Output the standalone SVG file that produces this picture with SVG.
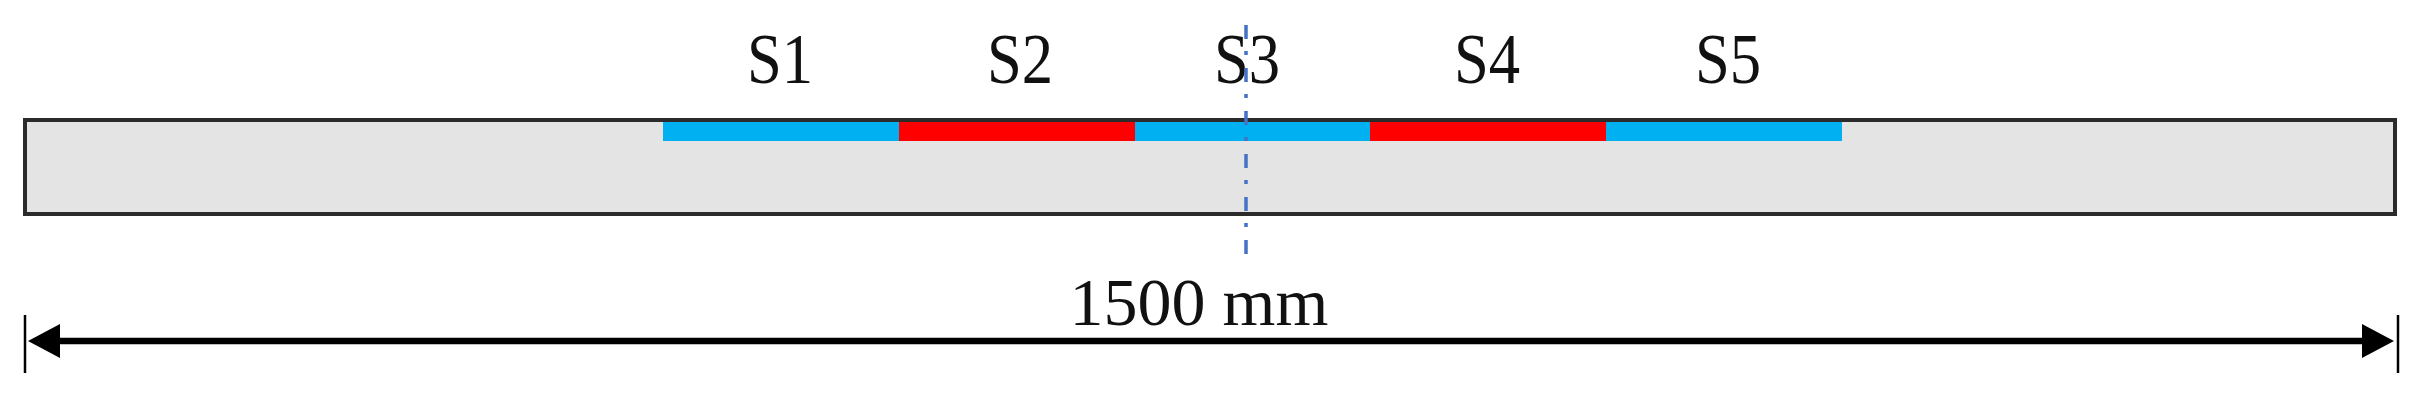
<svg xmlns="http://www.w3.org/2000/svg" width="2429" height="400" viewBox="0 0 2429 400">
<style>
.lbl{font-family:"Liberation Serif","Times New Roman",serif;font-size:72px;fill:#111;text-anchor:middle}
.dim{font-family:"Liberation Serif","Times New Roman",serif;font-size:68px;fill:#111;text-anchor:middle}
.blue{fill:#00B0F0}
.red{fill:#FF0000}
.tick{stroke:#000;stroke-width:2.5}
</style>
<rect width="2429" height="400" fill="#fff"/>
<g id="beam">
<rect x="25" y="120" width="2370" height="94" fill="#E4E4E4" stroke="#2b2b2b" stroke-width="4"/>
</g>
<g id="sensors">
<rect id="s1" class="blue" x="663" y="122" width="236" height="19"/>
<rect id="s2" class="red" x="899" y="122" width="236" height="19"/>
<rect id="s3" class="blue" x="1135" y="122" width="235" height="19"/>
<rect id="s4" class="red" x="1370" y="122" width="236" height="19"/>
<rect id="s5" class="blue" x="1606" y="122" width="236" height="19"/>
</g>
<g id="labels">
<text class="lbl" transform="translate(780,83) scale(0.87,1)">S1</text>
<text class="lbl" transform="translate(1020,83) scale(0.87,1)">S2</text>
<text class="lbl" transform="translate(1247,83) scale(0.87,1)">S3</text>
<text class="lbl" transform="translate(1487,83) scale(0.87,1)">S4</text>
<text class="lbl" transform="translate(1728,83) scale(0.87,1)">S5</text>
</g>
<g id="connectors">
<line x1="1246" y1="25" x2="1246" y2="261" stroke="#4472C4" stroke-width="3.5" stroke-dasharray="14 12 4 13"/>
<line class="tick" x1="25" y1="315" x2="25" y2="373"/>
<line class="tick" x1="2398" y1="315" x2="2398" y2="373"/>
<line x1="55" y1="341" x2="2365" y2="341" stroke="#000" stroke-width="6.5"/>
<polygon points="28,341 60,324 60,358" fill="#000"/>
<polygon points="2394,341 2362,324 2362,358" fill="#000"/>
</g>
<g id="dimension">
<text class="dim" x="1199" y="325">1500 mm</text>
</g>
</svg>
